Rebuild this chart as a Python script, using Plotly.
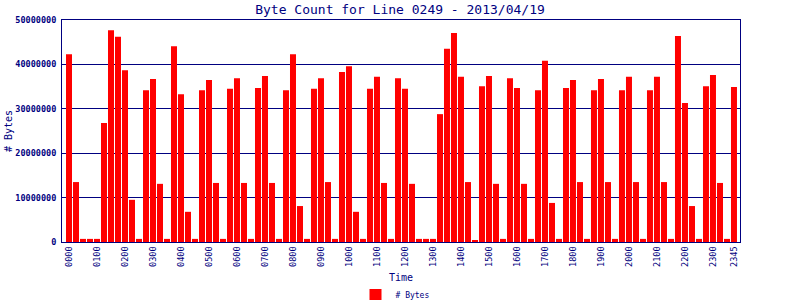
import plotly.graph_objects as go

# 15-minute time slots for the day
times = [f"{h:02d}{m:02d}" for h in range(24) for m in (0, 15, 30, 45)]

byte_counts = [
    42.3, 13.5, 0.7, 0.7, 0.7, 26.8, 47.7, 46.2, 38.7, 9.5, 0.7, 34.2,
    36.7, 13.1, 0.7, 44.1, 33.3, 6.8, 0.7, 34.2, 36.5, 13.3, 0.7, 34.5,
    36.9, 13.3, 0.7, 34.7, 37.4, 13.3, 0.7, 34.2, 42.3, 8.1, 0.7, 34.5,
    36.9, 13.5, 0.7, 38.3, 39.6, 6.8, 0.7, 34.5, 37.2, 13.3, 0.7, 36.9,
    34.5, 13.1, 0.7, 0.7, 0.7, 28.8, 43.5, 47.1, 37.2, 13.5, 0.45, 35.1,
    37.4, 13.1, 0.7, 36.9, 34.7, 13.1, 0.7, 34.2, 40.8, 8.8, 0.7, 34.7,
    36.5, 13.5, 0.7, 34.2, 36.7, 13.5, 0.7, 34.2, 37.2, 13.5, 0.7, 34.2,
    37.2, 13.5, 0.7, 46.4, 31.3, 8.1, 0.7, 35.1, 37.6, 13.3, 0.7, 34.9,
]
byte_values = [v * 1_000_000 for v in byte_counts]

tick_labels = [f"{h:02d}00" for h in range(24)] + ["2345"]
y_ticks = [0, 10000000, 20000000, 30000000, 40000000, 50000000]

NAVY = "#000080"
FONT = "DejaVu Sans Mono"

fig = go.Figure()
fig.add_trace(go.Bar(
    x=times, y=byte_values, name="# Bytes",
    marker=dict(color="#ff0000", line=dict(width=0)),
))

fig.update_layout(
    width=800, height=300,
    margin=dict(l=62, r=60, t=20, b=58, autoexpand=False),
    paper_bgcolor="white", plot_bgcolor="white",
    bargap=1/7,
    font=dict(family=FONT, color=NAVY),
    title=dict(text="Byte Count for Line 0249 - 2013/04/19",
               x=0.5, xanchor="center", y=1 - 9/300, yanchor="middle",
               yref="container", font=dict(size=13, color=NAVY, family=FONT)),
    showlegend=True,
    legend=dict(orientation="h", x=395/800, xanchor="center", xref="container",
                y=5/300, yref="container", yanchor="middle",
                font=dict(size=8, color=NAVY, family=FONT),
                itemwidth=30),
    xaxis=dict(
        type="category", range=[-1, 95.86], automargin=False,
        tickmode="array", tickvals=tick_labels, ticktext=tick_labels,
        tickangle=-90, tickfont=dict(size=8.5, color=NAVY, family=FONT),
        showgrid=False, showline=True, linecolor=NAVY, linewidth=1,
        mirror=True, ticks="", zeroline=False,
    ),
    yaxis=dict(
        range=[0, 50000000], tickmode="array", tickvals=y_ticks,
        ticktext=[str(v) for v in y_ticks], automargin=False,
        tickfont=dict(size=8.5, color=NAVY, family=FONT, weight="bold"),
        showgrid=True, gridcolor=NAVY, gridwidth=1,
        showline=True, linecolor=NAVY, linewidth=1, mirror=True,
        ticks="", zeroline=False, ticklabelstandoff=3,
    ),
    annotations=[
        dict(text="Time", x=0.5, xref="paper", y=-35/222, yref="paper",
             xanchor="center", yanchor="middle", showarrow=False,
             font=dict(size=10, color=NAVY, family=FONT)),
        dict(text="# Bytes", x=(8 - 62) / 678, xref="paper", y=0.5, yref="paper",
             xanchor="center", yanchor="middle", showarrow=False,
             textangle=-90, font=dict(size=10, color=NAVY, family=FONT)),
    ],
)

fig.write_html("out.html")
